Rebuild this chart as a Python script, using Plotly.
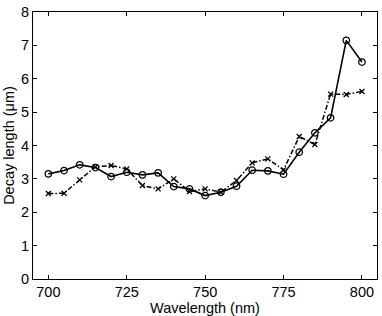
import plotly.graph_objects as go

wavelength = [700, 705, 710, 715, 720, 725, 730, 735, 740, 745, 750,
              755, 760, 765, 770, 775, 780, 785, 790, 795, 800]
solid_vals = [3.15, 3.25, 3.42, 3.34, 3.07, 3.2, 3.12, 3.18, 2.77, 2.7, 2.5,
              2.6, 2.78, 3.26, 3.24, 3.14, 3.8, 4.38, 4.83, 7.15, 6.5]
dashed_vals = [2.56, 2.57, 2.97, 3.36, 3.4, 3.3, 2.8, 2.7, 3.0, 2.62, 2.7,
               2.6, 2.95, 3.48, 3.6, 3.27, 4.27, 4.03, 5.54, 5.53, 5.62]
x_ticks = [700, 725, 750, 775, 800]
y_ticks = [0, 1, 2, 3, 4, 5, 6, 7, 8]

FONT = "Liberation Sans, Arial"

fig = go.Figure()
fig.add_trace(go.Scatter(
    x=wavelength, y=dashed_vals, mode="lines+markers",
    line=dict(color="black", width=1.5, dash="5px,2px,1.5px,2px"),
    marker=dict(symbol="x-thin", size=5, line=dict(color="black", width=1.3), color="black"),
    showlegend=False))
fig.add_trace(go.Scatter(
    x=wavelength, y=solid_vals, mode="lines+markers",
    line=dict(color="black", width=1.6),
    marker=dict(symbol="circle-open", size=6.5, color="black", line=dict(width=1.3)),
    showlegend=False))

axis_common = dict(showgrid=False, zeroline=False, showline=True, linecolor="black",
                   linewidth=1, mirror="ticks", ticks="inside", ticklen=4,
                   tickcolor="black", ticklabeloverflow="allow",
                   tickfont=dict(family=FONT, size=14.5, color="black"))
fig.update_xaxes(range=[695.1, 804.8], tickvals=x_ticks,
                 title=dict(text="Wavelength (nm)", font=dict(family=FONT, size=14.5, color="black"), standoff=1),
                 **axis_common)
fig.update_yaxes(range=[0, 8], tickvals=y_ticks,
                 title=dict(text="Decay length (μm)", font=dict(family=FONT, size=14.5, color="black"), standoff=2),
                 **axis_common)
fig.update_layout(width=382, height=316, margin=dict(l=33, r=4, t=8, b=33),
                  plot_bgcolor="white", paper_bgcolor="white")
fig.write_html("out.html")
